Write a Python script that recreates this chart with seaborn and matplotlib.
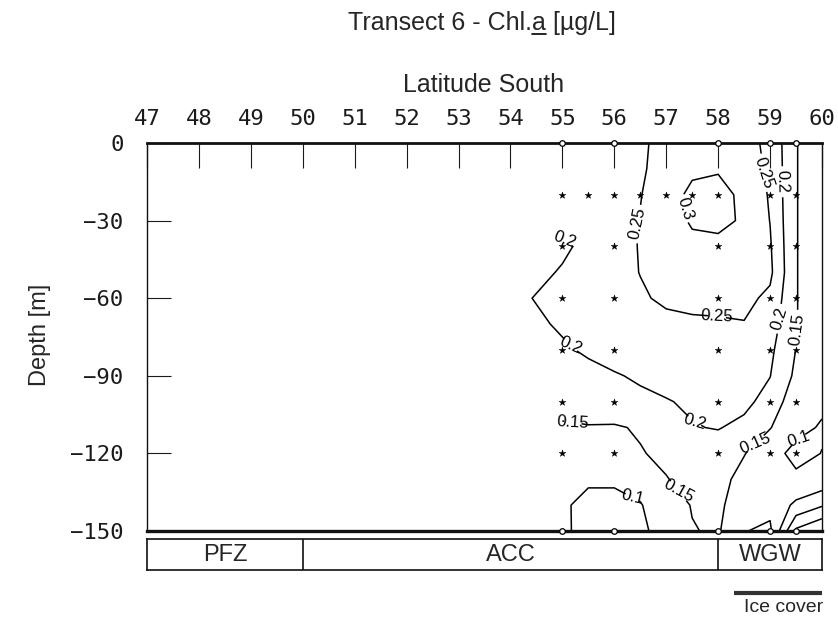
import numpy as np
import pandas as pd
import matplotlib
matplotlib.use("Agg")
import matplotlib.pyplot as plt
from matplotlib.lines import Line2D
import seaborn as sns

# ---------------- data ----------------
# gridded chlorophyll-a field (µg/L); columns follow grid_lat, rows follow grid_depth
grid_lat = [54.3, 55, 55.5, 56, 56.5, 57, 57.5, 58, 58.5, 59, 59.5, 60]
grid_depth = [0, -10, -20, -30, -40, -50, -60, -70, -80, -90, -100, -110, -120, -130, -140, -150]
nan = np.nan
chl_0m   = [nan, 0.215, 0.225, 0.235, 0.245, 0.260, 0.270, 0.270, 0.265, 0.240, 0.152, 0.120]
chl_10m  = [nan, 0.215, 0.228, 0.235, 0.245, 0.265, 0.292, 0.296, 0.270, 0.243, 0.152, 0.120]
chl_20m  = [nan, 0.218, 0.225, 0.235, 0.248, 0.280, 0.310, 0.315, 0.290, 0.245, 0.152, 0.120]
chl_30m  = [nan, 0.220, 0.225, 0.235, 0.252, 0.280, 0.305, 0.310, 0.295, 0.249, 0.152, 0.120]
chl_40m  = [0.170, 0.190, 0.215, 0.235, 0.252, 0.275, 0.290, 0.290, 0.280, 0.255, 0.152, 0.120]
chl_50m  = [0.180, 0.205, 0.215, 0.235, 0.251, 0.270, 0.280, 0.280, 0.275, 0.260, 0.152, 0.120]
chl_60m  = [0.197, 0.215, 0.220, 0.230, 0.245, 0.257, 0.262, 0.262, 0.262, 0.240, 0.152, 0.120]
chl_70m  = [0.190, 0.205, 0.215, 0.225, 0.235, 0.240, 0.243, 0.245, 0.248, 0.225, 0.152, 0.120]
chl_80m  = [0.180, 0.195, 0.205, 0.215, 0.222, 0.227, 0.230, 0.232, 0.230, 0.210, 0.149, 0.120]
chl_90m  = [0.165, 0.180, 0.190, 0.197, 0.205, 0.212, 0.215, 0.217, 0.215, 0.201, 0.140, 0.120]
chl_100m = [0.155, 0.165, 0.175, 0.185, 0.192, 0.198, 0.205, 0.208, 0.210, 0.185, 0.115, 0.110]
chl_110m = [nan, 0.145, 0.147, 0.145, 0.155, 0.180, 0.198, 0.202, 0.190, 0.152, 0.115, 0.095]
chl_120m = [nan, 0.130, 0.135, 0.140, 0.147, 0.160, 0.175, 0.180, 0.152, 0.120, 0.085, 0.101]
chl_130m = [nan, 0.110, 0.105, 0.105, 0.120, 0.148, 0.165, 0.165, 0.135, 0.125, 0.110, 0.115]
chl_140m = [nan, 0.105, 0.090, 0.090, 0.097, 0.130, 0.152, 0.160, 0.120, 0.115, 0.160, 0.195]
chl_150m = [nan, 0.108, 0.085, 0.080, 0.090, 0.120, 0.148, 0.155, 0.102, 0.090, 0.260, 0.300]
contour_levels = [0.1, 0.15, 0.2, 0.25, 0.3]

# sampling stations
profile_lats = [55, 56, 58, 59, 59.5]
profile_depths = [-20, -40, -60, -80, -100, -120]
extra_lats_20m = [55.5, 56.5, 57, 57.5]
boundary_depths = [0, -150]

# water masses along the transect
zone_names = ["PFZ", "ACC", "WGW"]
zone_edges = [47, 50, 58, 60]
ice_cover = [58.3, 60]

lat_ticks = list(range(47, 61))
depth_ticks = [0, -30, -60, -90, -120, -150]

# label anchor points for the isolines (lat, depth)
label_spots = [
    (57.4, -25), (56.48, -31), (57.98, -67), (58.85, -12),
    (59.22, -15), (55.05, -38), (55.15, -79), (57.55, -107),
    (59.18, -68), (59.5, -72), (55.2, -108), (57.23, -135),
    (58.73, -117), (56.34, -138), (59.55, -114),
]

# ---------------- figure ----------------
sns.set_theme(style="white")
plt.rcParams["font.family"] = ["Liberation Sans", "DejaVu Sans"]
plt.rcParams["axes.unicode_minus"] = True

W, H = 838, 620
fig = plt.figure(figsize=(W / 100, H / 100), dpi=100)
fig.patch.set_facecolor("white")

def fx(px):
    return px / W

def fy(py):
    return 1 - py / H

ax = fig.add_axes([fx(147), fy(531), fx(822) - fx(147), fy(143) - fy(531)])

chl = np.array([chl_0m, chl_10m, chl_20m, chl_30m, chl_40m, chl_50m, chl_60m, chl_70m,
                chl_80m, chl_90m, chl_100m, chl_110m, chl_120m, chl_130m, chl_140m, chl_150m])
LAT, DEP = np.meshgrid(grid_lat, grid_depth)
Z = np.ma.masked_invalid(chl)

cs = ax.contour(LAT, DEP, Z, levels=contour_levels, colors="black", linewidths=1.1,
                corner_mask=False)
labels = ax.clabel(cs, fmt=lambda v: f"{v:g}", fontsize=12, inline=True,
                   inline_spacing=4, manual=label_spots)
for lb in labels:
    lb.set_family(["Liberation Sans", "DejaVu Sans"])

# sample points
star_rows = [(la, d) for d in profile_depths for la in profile_lats]
star_rows += [(la, -20) for la in extra_lats_20m]
stars = pd.DataFrame(star_rows, columns=["lat", "depth"])
edge_pts = pd.DataFrame([(la, d) for d in boundary_depths for la in profile_lats],
                        columns=["lat", "depth"])
sns.scatterplot(data=stars, x="lat", y="depth", marker="*", s=26, color="black",
                edgecolor="black", linewidth=0.3, ax=ax, legend=False, zorder=5)
sns.scatterplot(data=edge_pts, x="lat", y="depth", marker="o", s=16, facecolor="white",
                edgecolor="black", linewidth=0.9, ax=ax, legend=False, zorder=6,
                clip_on=False)

ax.set_xlim(47, 60)
ax.set_ylim(-150, 0)
ax.set_xlabel("")
ax.set_ylabel("")

ax.xaxis.tick_top()
ax.set_xticks(lat_ticks)
ax.set_xticklabels([str(t) for t in lat_ticks])
ax.set_yticks(depth_ticks)
ax.set_yticklabels([f"\u2212{abs(t)}" if t < 0 else "0" for t in depth_ticks])
ax.tick_params(axis="x", which="both", direction="in", length=18, width=0.8,
               top=True, bottom=False, labeltop=True, labelbottom=False,
               pad=10, labelsize=16, colors="#1a1a1a")
ax.tick_params(axis="y", which="both", direction="in", length=17, width=0.8,
               left=True, right=False, pad=17, labelsize=16, colors="#1a1a1a")
for t in ax.get_xticklabels() + ax.get_yticklabels():
    t.set_family(["DejaVu Sans Mono"])

for side, lw in [("top", 2.0), ("bottom", 2.4), ("left", 1.0), ("right", 1.0)]:
    ax.spines[side].set_visible(True)
    ax.spines[side].set_linewidth(lw)
    ax.spines[side].set_color("#111111")
ax.set_facecolor("white")

# water-mass strip
zax = fig.add_axes([fx(147), fy(570), fx(822) - fx(147), fy(539) - fy(570)])
zax.set_xlim(zone_edges[0], zone_edges[-1])
zax.set_ylim(0, 1)
zax.set_xticks([])
zax.set_yticks([])
for s in zax.spines.values():
    s.set_visible(True)
    s.set_linewidth(1.2)
    s.set_color("#111111")
for edge in zone_edges[1:-1]:
    zax.axvline(edge, color="#111111", lw=1.2)
for name, a, b in zip(zone_names, zone_edges[:-1], zone_edges[1:]):
    zax.text((a + b) / 2, 0.47, name, ha="center", va="center", fontsize=17)

# ice-cover bar
zax.plot(ice_cover, [-0.74, -0.74], color="#333333", lw=3, clip_on=False,
         solid_capstyle="butt")
fig.text(fx(823), fy(608), "Ice cover", ha="right", va="center", fontsize=14)

# title with underlined "a"
title_parts = ["Transect 6 - Chl.", "a", " [µg/L]"]
title_kw = dict(fontsize=18, va="baseline")
renderer = fig.canvas.get_renderer()
widths = []
for part in title_parts:
    tmp = fig.text(0, 0, part.replace(" ", "\u00a0"), **title_kw)
    widths.append(tmp.get_window_extent(renderer).width)
    tmp.remove()
x0 = 482 - sum(widths) / 2
base_y = fy(30)
xs = x0
for part, w in zip(title_parts, widths):
    fig.text(fx(xs), base_y, part.replace(" ", "\u00a0"), ha="left", **title_kw)
    if part == "a":
        fig.add_artist(Line2D([fx(xs), fx(xs + w)], [base_y - 3.5 / H, base_y - 3.5 / H],
                              transform=fig.transFigure, color="black", lw=1.2))
    xs += w

fig.text(fx(484), fy(85), "Latitude South", ha="center", va="center", fontsize=18)
fig.text(fx(40), fy(335), "Depth [m]", ha="center", va="center", rotation=90,
         fontsize=17)

fig.savefig("out.png", dpi=100, facecolor="white")
